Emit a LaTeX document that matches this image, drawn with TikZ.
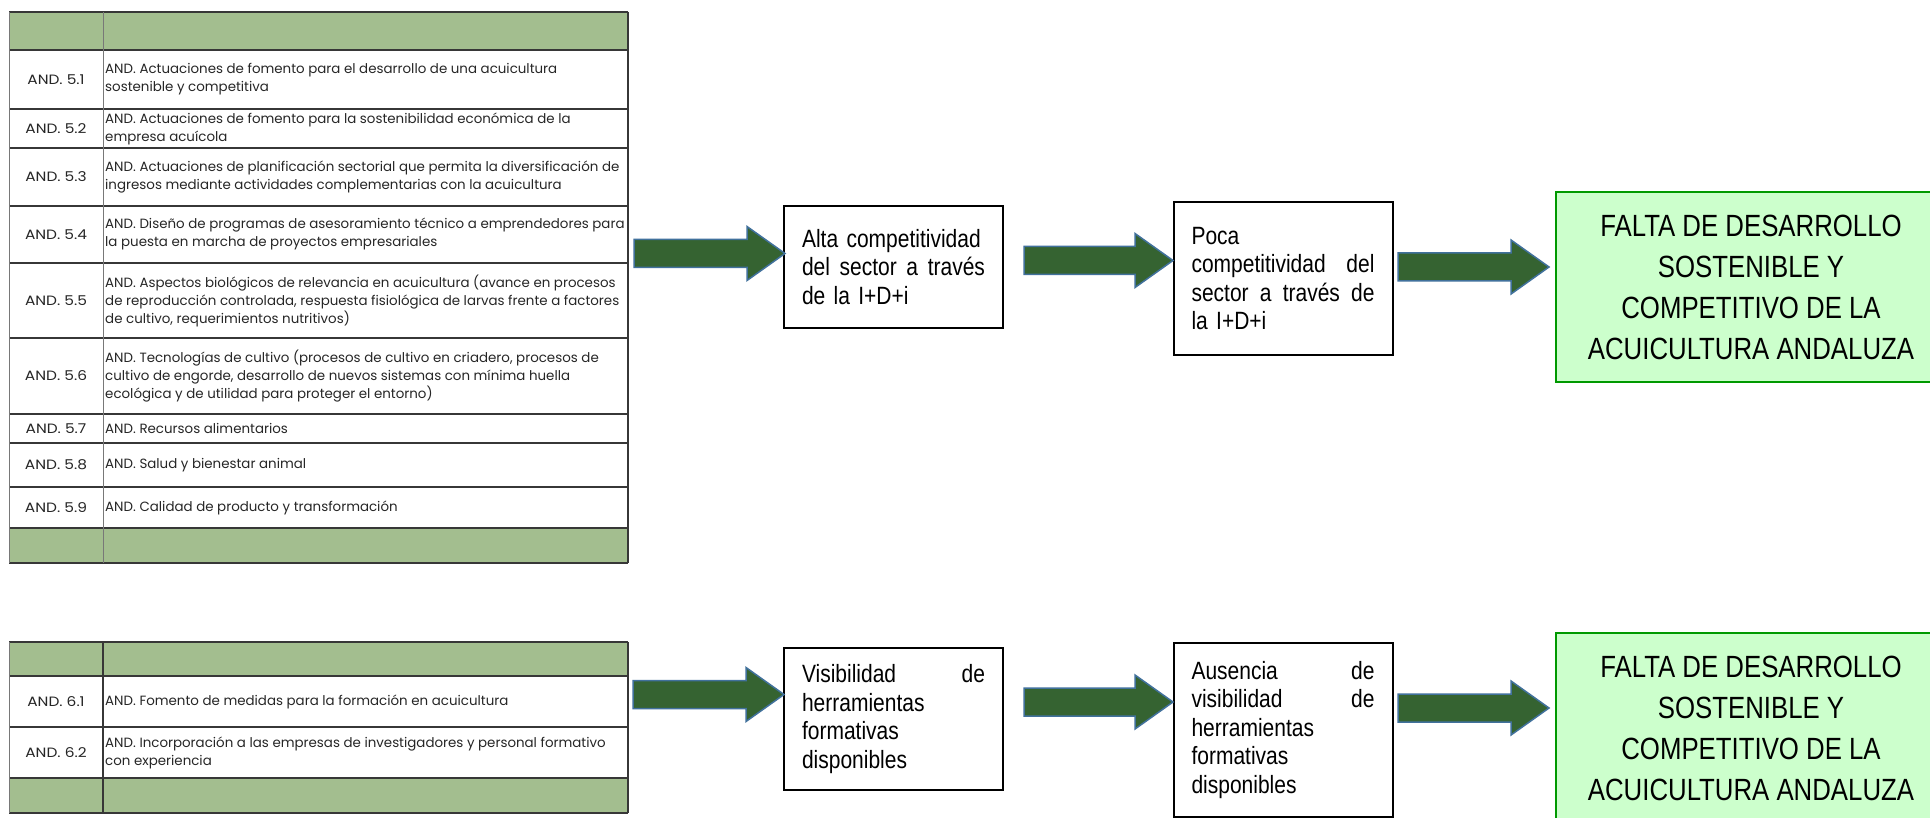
\documentclass[tikz,border=0pt]{standalone}
\usepackage{fontspec}
\setmainfont{Liberation Sans}
\newfontfamily\tabfont{Poppins}
\newfontfamily\codefont[FakeStretch=1.14]{Poppins}
\newfontfamily\narrowfont[FakeStretch=0.84]{Liberation Sans}
\usetikzlibrary{calc}
\definecolor{hdrgreen}{RGB}{163,190,143}
\definecolor{arrowfill}{RGB}{53,99,49}
\definecolor{arrowedge}{RGB}{65,113,156}
\definecolor{boxgreen}{RGB}{204,255,204}
\definecolor{boxedge}{RGB}{0,153,0}
\definecolor{tabline}{RGB}{55,55,55}
\definecolor{tabvline}{RGB}{120,120,120}
\definecolor{tabtext}{RGB}{38,38,38}
\tikzset{
  codecell/.style={font=\codefont\fontsize{13.5}{18}\selectfont, text=tabtext, inner sep=0pt, anchor=center},
  desccell/.style={font=\tabfont\fontsize{13.4}{18}\selectfont, text=tabtext, inner sep=0pt, anchor=west, align=left},
  stepbox/.style={draw=black, line width=2pt, fill=white, inner sep=0pt, minimum width=219pt, text width=183pt, align=left, font=\narrowfont\fontsize{25}{28.5}\selectfont},
  goalbox/.style={draw=boxedge, line width=2pt, fill=boxgreen, inner sep=0pt, minimum width=390pt, minimum height=190pt, align=center, font=\narrowfont\fontsize{30.7}{41}\selectfont},
  barrow/.style={fill=arrowfill, draw=arrowedge, line width=1.5pt, line join=miter},
  hrule/.style={draw=tabline, line width=1.3pt},
  vrule/.style={draw=tabvline, line width=1pt},
  hdrfill/.style={fill=hdrgreen}
}
\newcommand\blockarrow[2]{%
  \draw[barrow] let \p1=(#1), \p2=(#2) in
    (\x1,\y1+14pt) -- (\x2-38pt,\y1+14pt) -- (\x2-38pt,\y1+27pt) -- (\x2,\y1)
    -- (\x2-38pt,\y1-27pt) -- (\x2-38pt,\y1-14pt) -- (\x1,\y1-14pt) -- cycle;}
\begin{document}
\begin{tikzpicture}[x=1pt,y=-1pt]
\useasboundingbox (0,0) rectangle (1930,818);
\fill[white] (0,0) rectangle (1930,818);

% ---------- top table ----------
\fill[hdrfill] (9,12) rectangle (628,50);
\fill[hdrfill] (9,528) rectangle (628,563);
\foreach \yy in {12,50,109,148,206,263,338,414,443,487,528,563}
  \draw[hrule] (9,\yy) -- (628,\yy);
\draw[vrule] (9,12) -- (9,563);
\draw[vrule] (103,12) -- (103,563);
\draw[hrule] (628,12) -- (628,563);

\node[codecell] (c51) at (56,79.5) {AND. 5.1};
\node[codecell] (c52) at (56,128.5) {AND. 5.2};
\node[codecell] (c53) at (56,177) {AND. 5.3};
\node[codecell] (c54) at (56,234.5) {AND. 5.4};
\node[codecell] (c55) at (56,300.5) {AND. 5.5};
\node[codecell] (c56) at (56,376) {AND. 5.6};
\node[codecell] (c57) at (56,428.5) {AND. 5.7};
\node[codecell] (c58) at (56,465) {AND. 5.8};
\node[codecell] (c59) at (56,507.5) {AND. 5.9};

\node[desccell] (d51) at (105,79.5) {AND. Actuaciones de fomento para el desarrollo de una acuicultura\\sostenible y competitiva};
\node[desccell] (d52) at (105,128.5) {AND. Actuaciones de fomento para la sostenibilidad económica de la\\empresa acuícola};
\node[desccell] (d53) at (105,177) {AND. Actuaciones de planificación sectorial que permita la diversificación de\\ingresos mediante actividades complementarias con la acuicultura};
\node[desccell] (d54) at (105,234.5) {AND. Diseño de programas de asesoramiento técnico a emprendedores para\\la puesta en marcha de proyectos empresariales};
\node[desccell] (d55) at (105,300.5) {AND. Aspectos biológicos de relevancia en acuicultura (avance en procesos\\de reproducción controlada, respuesta fisiológica de larvas frente a factores\\de cultivo, requerimientos nutritivos)};
\node[desccell] (d56) at (105,376) {AND. Tecnologías de cultivo (procesos de cultivo en criadero, procesos de\\cultivo de engorde, desarrollo de nuevos sistemas con mínima huella\\ecológica y de utilidad para proteger el entorno)};
\node[desccell] (d57) at (105,428.5) {AND. Recursos alimentarios};
\node[desccell] (d58) at (105,465) {AND. Salud y bienestar animal};
\node[desccell] (d59) at (105,507.5) {AND. Calidad de producto y transformación};

% ---------- bottom table ----------
\fill[hdrfill] (9,642) rectangle (628,676);
\fill[hdrfill] (9,778) rectangle (628,813);
\foreach \yy in {642,676,727,778,813}
  \draw[hrule] (9,\yy) -- (628,\yy);
\draw[vrule] (9,642) -- (9,813);
\draw[hrule] (103,642) -- (103,813);
\draw[hrule] (628,642) -- (628,813);

\node[codecell] (c61) at (56,701.5) {AND. 6.1};
\node[codecell] (c62) at (56,752.5) {AND. 6.2};
\node[desccell] (d61) at (105,701.5) {AND. Fomento de medidas para la formación en acuicultura};
\node[desccell] (d62) at (105,752.5) {AND. Incorporación a las empresas de investigadores y personal formativo\\con experiencia};

% ---------- boxes ----------
\node[stepbox, minimum height=122pt] (box1) at (893.5,267) {Alta competitividad\\del\hfill sector\hfill a\hfill través\\de la I+D+i};
\node[stepbox, minimum height=153pt] (box2) at (1283,278.5) {Poca\\competitividad\hfill del\\sector\hfill a\hfill través\hfill de\\la I+D+i};
\node[goalbox] (goal1) at (1751,287) {FALTA DE DESARROLLO\\SOSTENIBLE Y\\COMPETITIVO DE LA\\ACUICULTURA ANDALUZA};

\node[stepbox, minimum height=142pt] (box3) at (893.5,719) {Visibilidad\hfill de\\herramientas\\formativas\\disponibles};
\node[stepbox, minimum height=174pt] (box4) at (1283,730) {Ausencia\hfill de\\visibilidad\hfill de\\herramientas\\formativas\\disponibles};
\node[goalbox] (goal2) at (1751,728) {FALTA DE DESARROLLO\\SOSTENIBLE Y\\COMPETITIVO DE LA\\ACUICULTURA ANDALUZA};

% ---------- arrows ----------
\coordinate (a1s) at (634,253.5);  \coordinate (a1e) at (785,253.5);
\coordinate (a2s) at (1024,260.5); \coordinate (a2e) at (1173,260.5);
\coordinate (a3s) at (1398,267);   \coordinate (a3e) at (1549,267);
\coordinate (b1s) at (633,694.5);  \coordinate (b1e) at (784,694.5);
\coordinate (b2s) at (1024,702);   \coordinate (b2e) at (1173,702);
\coordinate (b3s) at (1398,708);   \coordinate (b3e) at (1549,708);
\blockarrow{a1s}{a1e}
\blockarrow{a2s}{a2e}
\blockarrow{a3s}{a3e}
\blockarrow{b1s}{b1e}
\blockarrow{b2s}{b2e}
\blockarrow{b3s}{b3e}
\end{tikzpicture}
\end{document}
